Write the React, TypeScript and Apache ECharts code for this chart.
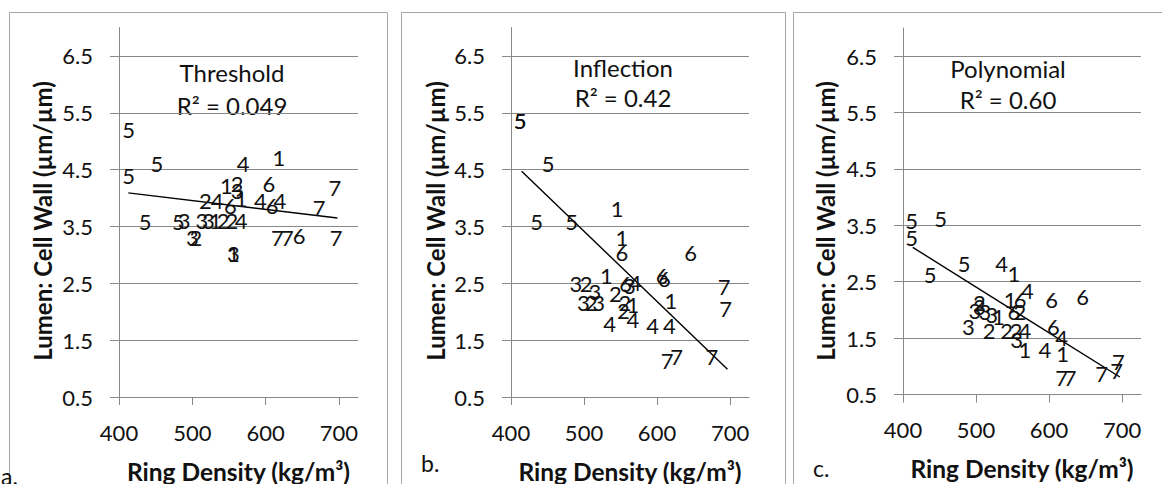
import React, { useEffect, useRef } from "react";
import * as echarts from "echarts";

const FONT = "Lato";
const yTicks = [0.5, 1.5, 2.5, 3.5, 4.5, 5.5, 6.5];
const xTicks = [400, 500, 600, 700];

// [ring density (kg/m³), lumen : cell wall, sample group]
const thresholdPoints: [number, number, number][] = [
  [618, 4.72, 1], [546.6, 4.22, 1], [566.7, 3.99, 1], [531.5, 3.61, 1], [556, 3.03, 1],
  [561, 4.25, 2], [517.8, 3.96, 2], [542, 3.61, 2], [554, 3.61, 2], [505, 3.3, 2],
  [561, 4.13, 3], [489, 3.61, 3], [513, 3.61, 3], [522, 3.61, 3], [500, 3.3, 3], [556, 3.03, 3],
  [569.4, 4.6, 4], [533.8, 3.96, 4], [593, 3.96, 4], [619.6, 3.96, 4], [566.7, 3.61, 4],
  [413, 5.2, 5], [413, 4.39, 5], [451.6, 4.61, 5], [435.6, 3.59, 5], [481, 3.59, 5],
  [552, 3.87, 6], [604.6, 4.25, 6], [609, 3.87, 6], [645.6, 3.34, 6],
  [694.5, 4.19, 7], [673, 3.83, 7], [696, 3.31, 7], [616, 3.31, 7], [629.7, 3.31, 7],
];

const inflectionPoints: [number, number, number][] = [
  [545.5, 3.81, 1], [552, 3.3, 1], [530.5, 2.64, 1], [619, 2.2, 1], [567, 2.12, 1],
  [503, 2.49, 2], [510, 2.17, 2], [543, 2.32, 2], [556, 2.16, 2], [554, 2.03, 2],
  [489, 2.49, 3], [515, 2.35, 3], [499, 2.17, 3], [520, 2.17, 3], [562, 2.47, 3],
  [535, 1.79, 4], [567, 1.87, 4], [594, 1.76, 4], [617, 1.76, 4], [570, 2.52, 4],
  [412.5, 5.36, 5], [412.5, 5.36, 5], [451, 4.61, 5], [435, 3.59, 5], [483, 3.59, 5],
  [552, 3.04, 6], [646, 3.04, 6], [607, 2.64, 6], [610, 2.58, 6], [557, 2.49, 6],
  [692, 2.45, 7], [694, 2.06, 7], [614, 1.15, 7], [627, 1.22, 7], [675, 1.22, 7],
];

const polynomialPoints: [number, number, number][] = [
  [552, 2.65, 1], [546.6, 2.18, 1], [530.5, 1.88, 1], [567, 1.3, 1], [618.8, 1.23, 1],
  [504.5, 2.14, 2], [560, 1.97, 2], [518, 1.64, 2], [542, 1.64, 2], [554.8, 1.64, 2],
  [504.5, 2.06, 3], [498.6, 1.99, 3], [512.3, 1.97, 3], [521.5, 1.91, 3], [489.5, 1.71, 3], [555.7, 1.47, 3],
  [535, 2.83, 4], [570.3, 2.35, 4], [567, 1.64, 4], [617.4, 1.51, 4], [594.5, 1.3, 4],
  [411.9, 3.59, 5], [411.9, 3.29, 5], [451.6, 3.62, 5], [437, 2.63, 5], [483.6, 2.82, 5],
  [560.3, 2.18, 6], [603.7, 2.18, 6], [646, 2.23, 6], [552, 1.97, 6], [606, 1.71, 6],
  [617.4, 0.81, 7], [628.8, 0.81, 7], [672.2, 0.87, 7], [695, 1.08, 7], [692.7, 0.93, 7],
];

// fitted curves
const thresholdFit: [number, number][] = [[412.7, 4.09], [698, 3.65]];
const inflectionFit: [number, number][] = [[414.6, 4.47], [696.5, 0.99]];
const polynomialFit: [number, number][] = [[413.3, 3.11], [554.8, 1.96], [697, 0.81]];

const modelNames = ["Threshold", "Inflection", "Polynomial"];
const r2Labels = ["R² = 0.049", "R² = 0.42", "R² = 0.60"];
const panelLetters = ["a.", "b.", "c."];
const xTitle = "Ring Density (kg/m³)";
const yTitle = "Lumen: Cell Wall (µm/µm)";

const AXIS_GREY = "#888888";
const TEXT = "#111111";

const grids = [
  { left: 119, top: 27.5, width: 239, height: 369.5 },
  { left: 511, top: 27.5, width: 238, height: 369.5 },
  { left: 903, top: 28, width: 238, height: 366.5 },
];

export default function App() {
  const ref = useRef<HTMLDivElement>(null);

  useEffect(() => {
    if (!ref.current) return;
    const chart = echarts.init(ref.current, null, { renderer: "svg" });

    const pointSets = [thresholdPoints, inflectionPoints, polynomialPoints];
    const fits = [thresholdFit, inflectionFit, polynomialFit];

    const xAxes = grids.map((_, i) => ({
      type: "value",
      gridIndex: i,
      min: 400,
      max: 726,
      name: xTitle,
      nameLocation: "middle",
      nameGap: i === 2 ? 74 : 74.5,
      nameTextStyle: { fontFamily: FONT, fontSize: 24.5, fontWeight: "bold", color: TEXT, verticalAlign: "middle" },
      axisLine: { show: true, onZero: false, lineStyle: { color: AXIS_GREY, width: 1 } },
      axisTick: { show: true, length: 8, customValues: xTicks, lineStyle: { color: AXIS_GREY } },
      axisLabel: { customValues: xTicks, margin: 24, fontFamily: FONT, fontSize: 22, color: TEXT },
      splitLine: { show: false },
    }));

    const yAxes = grids.map((_, i) => ({
      type: "value",
      gridIndex: i,
      min: 0.5,
      max: 7,
      axisLine: { show: true, onZero: false, lineStyle: { color: AXIS_GREY, width: 1 } },
      axisTick: { show: true, length: 9, customValues: yTicks, lineStyle: { color: AXIS_GREY } },
      axisLabel: {
        customValues: yTicks, margin: 26, fontFamily: FONT, fontSize: 22, color: TEXT,
        formatter: (v: number) => v.toFixed(1),
      },
      splitLine: { show: true, lineStyle: { color: AXIS_GREY, width: 1 } },
    }));

    const series: any[] = [];
    pointSets.forEach((pts, i) => {
      series.push({
        type: "line",
        xAxisIndex: i,
        yAxisIndex: i,
        data: fits[i],
        showSymbol: false,
        smooth: i === 2,
        lineStyle: { color: "#000", width: 1.4 },
        silent: true,
        z: 2,
      });
      series.push({
        type: "scatter",
        xAxisIndex: i,
        yAxisIndex: i,
        data: pts,
        symbolSize: 1,
        itemStyle: { color: "rgba(0,0,0,0)", opacity: 1 },
        label: {
          show: true,
          position: "inside",
          formatter: (p: any) => String(p.value[2]),
          fontFamily: FONT,
          fontSize: 22,
          color: TEXT,
          opacity: 1,
        },
        silent: true,
        z: 3,
      });
    });

    const borders = [
      { x: 9.5, y: 12.5, w: 378, h: 500 },
      { x: 401.5, y: 12.5, w: 384, h: 500 },
      { x: 793.5, y: 12.5, w: 400, h: 500 },
    ];
    const annot = [
      { cx: 232, t1: 72, t2: 105 },
      { cx: 623, t1: 67, t2: 97 },
      { cx: 1008, t1: 68, t2: 99 },
    ];
    const letters = [
      { x: 1, y: 476 },
      { x: 421, y: 463 },
      { x: 813, y: 468 },
    ];
    // vertical axis titles, centred beside each plot
    const yTitlePos = [
      { x: 42, y: 221 },
      { x: 435, y: 221 },
      { x: 825, y: 221 },
    ];

    const graphic: any[] = [];
    borders.forEach((b) =>
      graphic.push({
        type: "rect",
        shape: { x: b.x, y: b.y, width: b.w, height: b.h },
        style: { fill: "none", stroke: "#a6a6a6", lineWidth: 1 },
        silent: true,
        z: -1,
      })
    );
    yTitlePos.forEach((p) =>
      graphic.push({
        type: "text",
        x: p.x,
        y: p.y,
        rotation: Math.PI / 2,
        style: {
          text: yTitle, fontFamily: FONT, fontSize: 24, fontWeight: "bold", fill: TEXT,
          align: "center", verticalAlign: "middle",
        },
        silent: true,
      })
    );
    annot.forEach((a, i) => {
      graphic.push({
        type: "text",
        x: a.cx,
        y: a.t1,
        style: { text: modelNames[i], fontFamily: FONT, fontSize: 24, fill: TEXT, align: "center", verticalAlign: "middle" },
        silent: true,
      });
      graphic.push({
        type: "text",
        x: a.cx,
        y: a.t2,
        style: { text: r2Labels[i], fontFamily: FONT, fontSize: 24, fill: TEXT, align: "center", verticalAlign: "middle" },
        silent: true,
      });
    });
    letters.forEach((l, i) =>
      graphic.push({
        type: "text",
        x: l.x,
        y: l.y,
        style: { text: panelLetters[i], fontFamily: FONT, fontSize: 23, fill: TEXT, align: "left", verticalAlign: "middle" },
        silent: true,
      })
    );

    chart.setOption({
      animation: false,
      backgroundColor: "#ffffff",
      grid: grids.map((g) => ({ ...g, containLabel: false, outerBoundsMode: "none" })),
      xAxis: xAxes,
      yAxis: yAxes,
      series,
      graphic,
    });

    return () => chart.dispose();
  }, []);

  return (
    <div
      ref={ref}
      style={{ position: "fixed", left: 0, top: 0, width: 1162, height: 484, background: "#fff" }}
    />
  );
}
